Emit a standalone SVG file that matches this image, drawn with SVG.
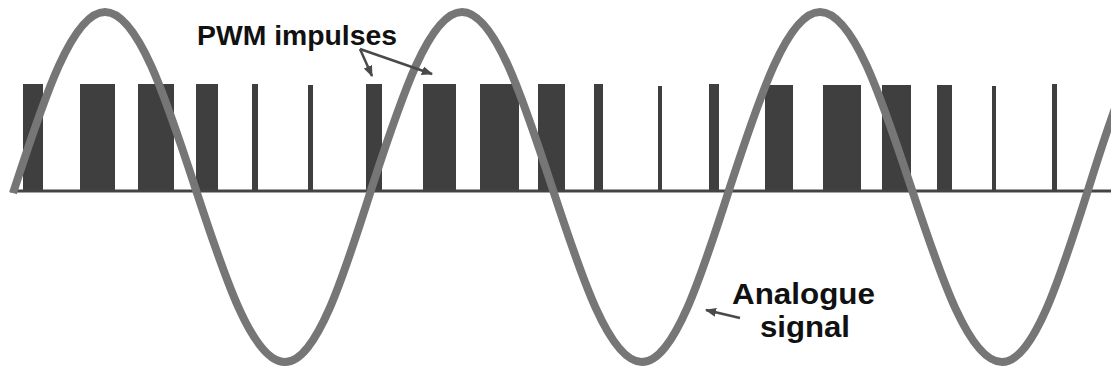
<svg xmlns="http://www.w3.org/2000/svg" width="1111" height="371" viewBox="0 0 1111 371">
<style>
.bar{fill:#3f3f3f}
.base{stroke:#444;stroke-width:3;fill:none}
.wave{stroke:#767676;stroke-width:8;fill:none;stroke-linejoin:round}
.lbl{font-family:"Liberation Sans",Arial,sans-serif;font-weight:bold;fill:#111}
.arr{stroke:#4a4a4a;stroke-width:2.5;fill:none}
</style>
<defs>
<marker id="ah" viewBox="0 0 10 8" refX="9" refY="4" markerWidth="4.5" markerHeight="3.6" orient="auto" markerUnits="strokeWidth">
<path d="M0,0 L10,4 L0,8 Z" fill="#4a4a4a"/>
</marker>
</defs>
<rect width="1111" height="371" fill="#fff"/>
<g id="pwm-bars">
<rect class="bar" x="23" y="84" width="20" height="107"/>
<rect class="bar" x="80" y="84" width="35" height="107"/>
<rect class="bar" x="138" y="84" width="36" height="107"/>
<rect class="bar" x="196" y="84" width="22" height="107"/>
<rect class="bar" x="252" y="84" width="6" height="107"/>
<rect class="bar" x="308" y="85" width="5" height="106"/>
<rect class="bar" x="366" y="84" width="16" height="107"/>
<rect class="bar" x="423" y="84" width="33" height="107"/>
<rect class="bar" x="480" y="84" width="39" height="107"/>
<rect class="bar" x="538" y="84" width="27" height="107"/>
<rect class="bar" x="594" y="84" width="9" height="107"/>
<rect class="bar" x="658" y="86" width="4" height="105"/>
<rect class="bar" x="709" y="84" width="10" height="107"/>
<rect class="bar" x="765" y="85" width="28" height="106"/>
<rect class="bar" x="823" y="85" width="38" height="106"/>
<rect class="bar" x="882" y="85" width="29" height="106"/>
<rect class="bar" x="937" y="85" width="15" height="106"/>
<rect class="bar" x="992" y="86" width="4" height="105"/>
<rect class="bar" x="1052" y="84" width="5" height="107"/>
<line class="base" x1="10" y1="191" x2="1111" y2="191"/>
</g>
<g id="analogue-wave">
<path class="wave" d="M13,193 L15,187 C44.35,97.35 72.43,12 105,12 C137.57,12 165.65,97.35 195,187 C224.35,276.65 252.43,362 285,362 C316.49,362 343.63,276.65 372,187 C401.35,97.35 429.43,12 462,12 C494.57,12 522.65,97.35 552,187 C581.35,276.65 609.43,362 642,362 C673.85,362 701.3,276.65 730,187 C759.35,97.35 787.43,12 820,12 C852.93,12 881.32,97.35 911,187 C940.68,276.65 969.07,362 1002,362 C1033.6,362 1060.7,276.65 1089,187 C1117,97.35 1145,12 1178,12"/>
</g>
<g id="connectors">
<line class="arr" x1="360" y1="49" x2="372" y2="76" marker-end="url(#ah)"/>
<line class="arr" x1="360" y1="49" x2="432" y2="74" marker-end="url(#ah)"/>
<line class="arr" x1="740" y1="318" x2="706" y2="310" marker-end="url(#ah)"/>
</g>
<g id="label-pwm">
<text class="lbl" x="197" y="45" font-size="27" textLength="200" lengthAdjust="spacingAndGlyphs">PWM impulses</text>
</g>
<g id="label-analogue">
<text class="lbl" x="732" y="304" font-size="29" textLength="143" lengthAdjust="spacingAndGlyphs">Analogue</text>
<text class="lbl" x="760" y="337" font-size="29" textLength="90" lengthAdjust="spacingAndGlyphs">signal</text>
</g>
</svg>
